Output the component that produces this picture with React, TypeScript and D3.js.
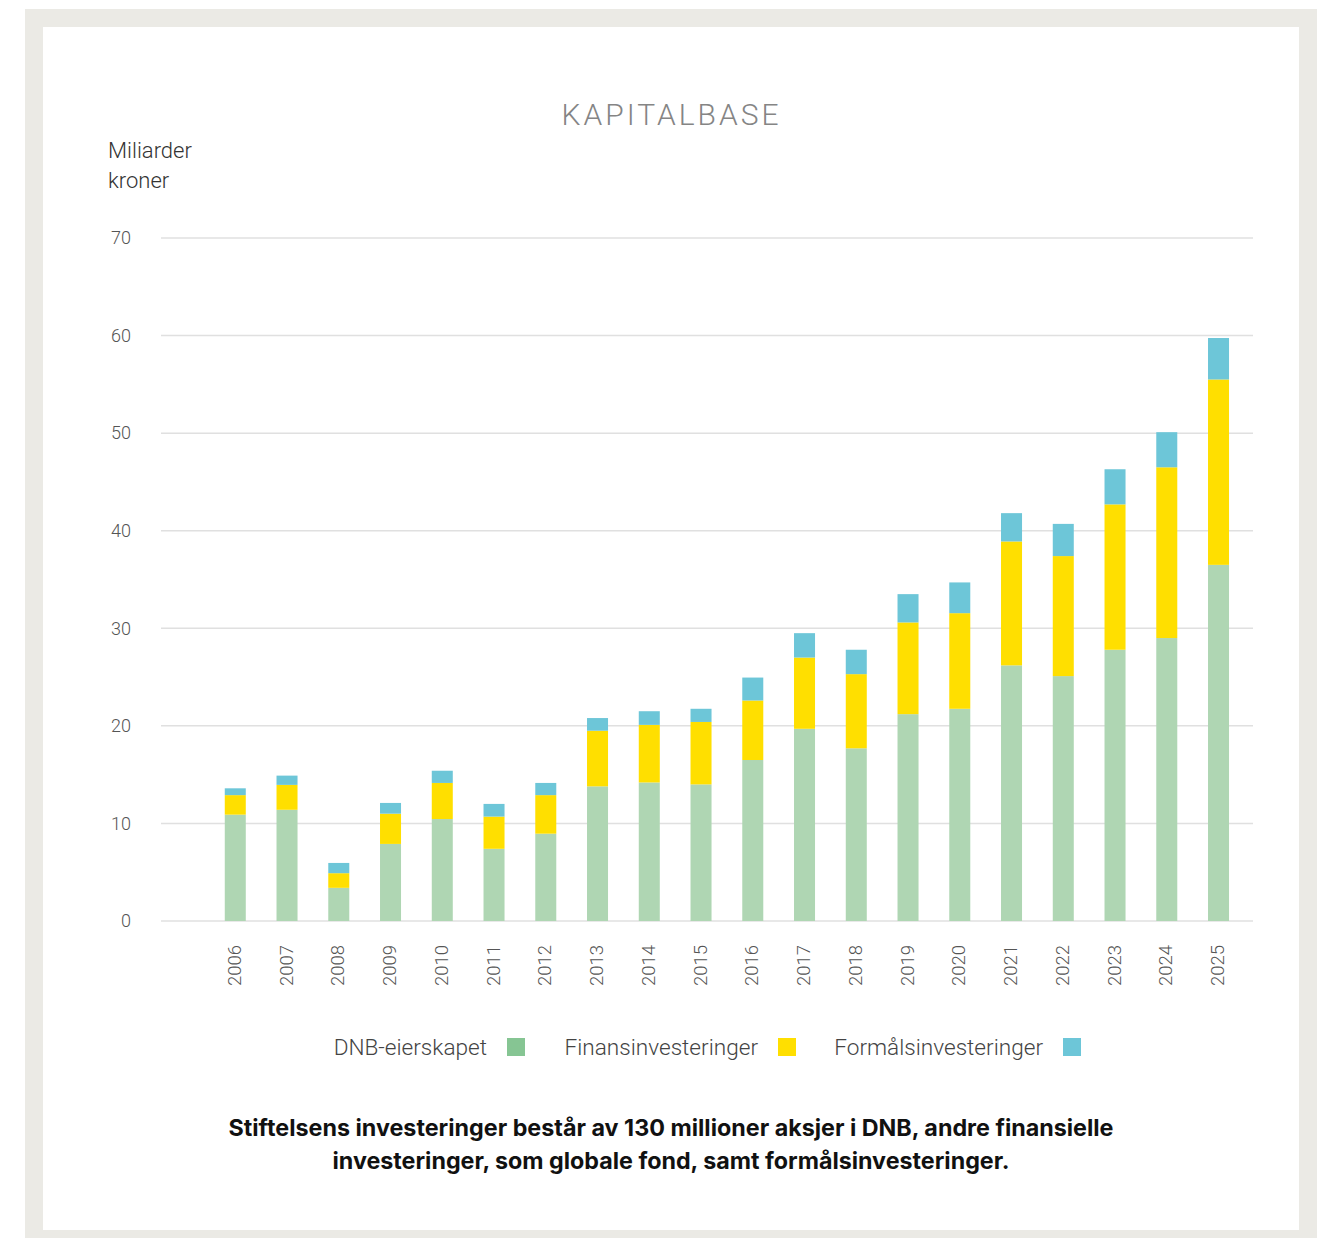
import React from "react";
import * as d3 from "d3";

const years = ["2006","2007","2008","2009","2010","2011","2012","2013","2014","2015","2016","2017","2018","2019","2020","2021","2022","2023","2024","2025"];
const dnbEierskapet = [10.9, 11.4, 3.4, 7.9, 10.45, 7.4, 8.95, 13.8, 14.2, 14.0, 16.5, 19.7, 17.7, 21.2, 21.75, 26.2, 25.1, 27.8, 29.0, 36.5];
const finansinvesteringer = [2.0, 2.55, 1.5, 3.1, 3.7, 3.3, 3.95, 5.7, 5.9, 6.4, 6.1, 7.3, 7.6, 9.4, 9.8, 12.7, 12.3, 14.9, 17.5, 19.0];
const formalsinvesteringer = [0.7, 0.95, 1.05, 1.1, 1.25, 1.3, 1.25, 1.3, 1.4, 1.35, 2.35, 2.5, 2.5, 2.9, 3.15, 2.9, 3.3, 3.6, 3.6, 4.25];
const yTicks = [0, 10, 20, 30, 40, 50, 60, 70];
const seriesKeys = ["DNB-eierskapet", "Finansinvesteringer", "Formålsinvesteringer"];
const barColors = ["#afd6b3", "#ffdf00", "#6dc6d8"];
const legendColors = ["#86c593", "#ffdf00", "#6dc6d8"];
const title = "KAPITALBASE";
const yLabel = ["Miliarder", "kroner"];
const caption = [
  "Stiftelsens investeringer består av 130 millioner aksjer i DNB, andre finansielle",
  "investeringer, som globale fond, samt formålsinvesteringer.",
];

const W = 1329;
const H = 1238;
const LIGHT = "Roboto, 'Helvetica Neue', Arial, sans-serif";

export default function App() {
  const rows = years.map((y, i) => ({
    year: y,
    [seriesKeys[0]]: dnbEierskapet[i],
    [seriesKeys[1]]: finansinvesteringer[i],
    [seriesKeys[2]]: formalsinvesteringer[i],
  }));
  const stacked = d3.stack<any>().keys(seriesKeys)(rows);

  const x = d3
    .scaleBand<string>()
    .domain(years)
    .range([209.4, 1244.4])
    .paddingInner(0.594)
    .paddingOuter(0.297);
  const y = d3.scaleLinear().domain([0, 70]).range([921, 238]);

  const legendSwatchX = [507, 778, 1063];

  return (
    <svg width={W} height={H} style={{ position: "absolute", left: 0, top: 0, display: "block" }}>
      <rect x={0} y={0} width={W} height={H} fill="#ffffff" />
      <rect x={25} y={9} width={1292} height={1240} fill="#ebeae5" />
      <rect x={43} y={27} width={1256} height={1203} fill="#ffffff" />

      <text
        x={670}
        y={125}
        textAnchor="middle"
        fontFamily={LIGHT}
        fontWeight={300}
        fontSize={30}
        fill="#858585"
        textLength={217}
        lengthAdjust="spacing"
      >
        {title}
      </text>

      {yLabel.map((t, i) => (
        <text key={t} x={108} y={158 + i * 29.5} fontFamily={LIGHT} fontWeight={300} fontSize={22} fill="#333">
          {t}
        </text>
      ))}

      <g>
        {yTicks.map((t) => (
          <g key={t}>
            <line x1={161} x2={1253} y1={y(t)} y2={y(t)} stroke="#e0e0e0" strokeWidth={1.5} />
            <text
              x={131}
              y={y(t)}
              dy="0.35em"
              textAnchor="end"
              fontFamily={LIGHT}
              fontWeight={300}
              fontSize={18}
              fill="#555"
            >
              {t}
            </text>
          </g>
        ))}
      </g>

      <g>
        {stacked.map((s, si) => (
          <g key={s.key} fill={barColors[si]}>
            {s.map((d: any) => (
              <rect
                key={d.data.year}
                x={x(d.data.year)}
                y={y(d[1])}
                width={x.bandwidth()}
                height={y(d[0]) - y(d[1])}
              />
            ))}
          </g>
        ))}
      </g>

      <g>
        {years.map((yr) => {
          const cx = (x(yr) as number) + x.bandwidth() / 2;
          return (
            <text
              key={yr}
              transform={`translate(${cx - 1},945) rotate(-90)`}
              textAnchor="end"
              dy="0.35em"
              fontFamily={LIGHT}
              fontWeight={300}
              fontSize={18.5}
              fill="#555"
            >
              {yr}
            </text>
          );
        })}
      </g>

      <g>
        {seriesKeys.map((k, i) => (
          <g key={k}>
            <text
              x={legendSwatchX[i] - 20}
              y={1047}
              dy="0.35em"
              textAnchor="end"
              fontFamily={LIGHT}
              fontWeight={300}
              fontSize={22.6}
              fill="#444"
            >
              {k}
            </text>
            <rect x={legendSwatchX[i]} y={1038} width={18} height={18} fill={legendColors[i]} />
          </g>
        ))}
      </g>

      <text
        x={671}
        y={1136}
        textAnchor="middle"
        fontFamily="Inter, 'Open Sans', sans-serif"
        fontWeight={700}
        fontSize={23}
        fill="#111"
        textLength={885}
        lengthAdjust="spacingAndGlyphs"
      >
        {caption[0]}
      </text>
      <text
        x={671}
        y={1169}
        textAnchor="middle"
        fontFamily="Inter, 'Open Sans', sans-serif"
        fontWeight={700}
        fontSize={23}
        fill="#111"
        textLength={677}
        lengthAdjust="spacingAndGlyphs"
      >
        {caption[1]}
      </text>
    </svg>
  );
}
